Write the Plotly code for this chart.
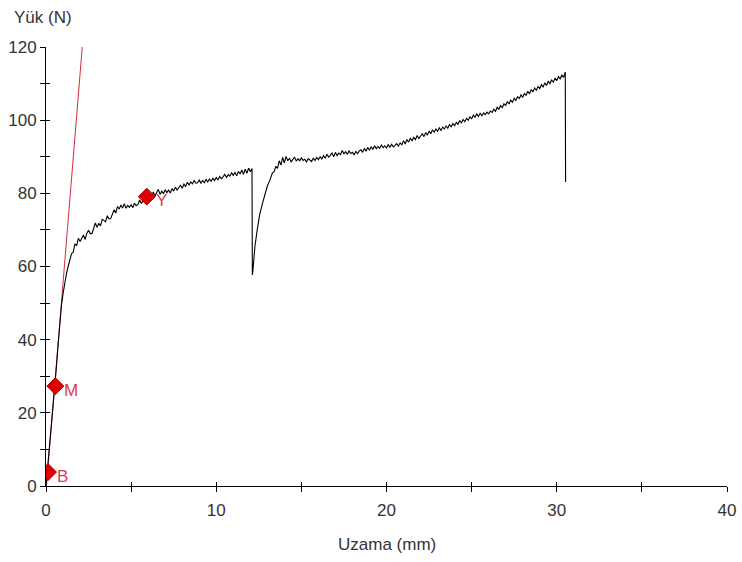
import plotly.graph_objects as go

# ---- Load-elongation curve (black) ----
# initial steep rise
rise_x = [0, 0.05, 0.1, 0.15, 0.2, 0.3, 0.4, 0.5, 0.6, 0.7, 0.8, 0.9, 1.0, 1.1, 1.2, 1.3, 1.4]
rise_y = [0, 2.5, 5.0, 7.5, 10.5, 15.5, 21.0, 26.5, 32.0, 38.0, 44.0, 49.0, 52.5, 55.5, 58.0, 60.0, 61.8]

# first plastic segment up to the first drop
seg1_x = [1.5, 1.6, 1.7, 1.8, 1.9, 2.0, 2.1, 2.2, 2.3, 2.4,
          2.5, 2.6, 2.7, 2.8, 2.9, 3.0, 3.1, 3.2, 3.3, 3.4,
          3.5, 3.6, 3.7, 3.8, 3.9, 4.0, 4.1, 4.2, 4.3, 4.4,
          4.5, 4.6, 4.7, 4.8, 4.9, 5.0, 5.1, 5.2, 5.3, 5.4,
          5.5, 5.6, 5.7, 5.8, 5.9, 6.0, 6.1, 6.2, 6.3, 6.4,
          6.5, 6.6, 6.7, 6.8, 6.9, 7.0, 7.1, 7.2, 7.3, 7.4,
          7.5, 7.6, 7.7, 7.8, 7.9, 8.0, 8.1, 8.2, 8.3, 8.4,
          8.5, 8.6, 8.7, 8.8, 8.9, 9.0, 9.1, 9.2, 9.3, 9.4,
          9.5, 9.6, 9.7, 9.8, 9.9, 10.0, 10.1, 10.2, 10.3, 10.4,
          10.5, 10.6, 10.7, 10.8, 10.9, 11.0, 11.1, 11.2, 11.3, 11.4,
          11.5, 11.6, 11.7, 11.8, 11.9, 12.0, 12.1, 12.12]
seg1_y = [63.5, 63.9, 66.1, 65.8, 67.7, 66.8, 67.6, 68.6, 67.4, 69.1,
          69.9, 69.0, 69.0, 70.7, 71.9, 70.7, 71.8, 71.1, 72.9, 72.6,
          72.2, 73.9, 73.0, 73.1, 74.5, 75.5, 74.6, 76.4, 75.7, 76.8,
          76.0, 77.2, 75.9, 76.7, 76.2, 76.9, 76.1, 77.3, 76.6, 77.0,
          78.2, 77.2, 78.0, 78.9, 78.5, 79.3, 80.0, 78.9, 80.4, 79.3,
          80.1, 81.1, 79.7, 80.6, 79.9, 81.0, 80.2, 80.9, 80.1, 81.3,
          80.6, 81.7, 80.9, 81.5, 82.2, 81.4, 82.5, 81.9, 83.0, 82.3,
          83.1, 82.6, 83.5, 82.8, 82.9, 83.6, 82.8, 83.5, 82.9, 83.8,
          83.1, 83.9, 83.3, 84.1, 83.5, 84.3, 83.7, 84.6, 84.0, 84.5,
          85.2, 84.3, 85.1, 84.7, 85.6, 84.9, 85.8, 84.8, 86.0, 85.3,
          86.4, 85.2, 86.6, 85.5, 86.9, 85.9, 86.8, 57.7]

# recovery after the first drop
rec_x = [12.15, 12.2, 12.27, 12.4, 12.55, 12.7, 12.85, 13.0, 13.15, 13.3, 13.4, 13.5, 13.6]
rec_y = [58.6, 61.5, 65.4, 69.8, 74.2, 77.0, 79.6, 82.0, 83.6, 85.6, 85.9, 87.4, 86.8]

# second plastic segment up to the break
seg2_x = [13.7, 13.8, 13.9, 14.0, 14.1, 14.2, 14.3, 14.4, 14.5, 14.6,
          14.7, 14.8, 14.9, 15.0, 15.1, 15.2, 15.3, 15.4, 15.5, 15.6,
          15.7, 15.8, 15.9, 16.0, 16.1, 16.2, 16.3, 16.4, 16.5, 16.6,
          16.7, 16.8, 16.9, 17.0, 17.1, 17.2, 17.3, 17.4, 17.5, 17.6,
          17.7, 17.8, 17.9, 18.0, 18.1, 18.2, 18.3, 18.4, 18.5, 18.6,
          18.7, 18.8, 18.9, 19.0, 19.1, 19.2, 19.3, 19.4, 19.5, 19.6,
          19.7, 19.8, 19.9, 20.0, 20.1, 20.2, 20.3, 20.4, 20.5, 20.6,
          20.7, 20.8, 20.9, 21.0, 21.1, 21.2, 21.3, 21.4, 21.5, 21.6,
          21.7, 21.8, 21.9, 22.0, 22.1, 22.2, 22.3, 22.4, 22.5, 22.6,
          22.7, 22.8, 22.9, 23.0, 23.1, 23.2, 23.3, 23.4, 23.5, 23.6,
          23.7, 23.8, 23.9, 24.0, 24.1, 24.2, 24.3, 24.4, 24.5, 24.6,
          24.7, 24.8, 24.9, 25.0, 25.1, 25.2, 25.3, 25.4, 25.5, 25.6,
          25.7, 25.8, 25.9, 26.0, 26.1, 26.2, 26.3, 26.4, 26.5, 26.6,
          26.7, 26.8, 26.9, 27.0, 27.1, 27.2, 27.3, 27.4, 27.5, 27.6,
          27.7, 27.8, 27.9, 28.0, 28.1, 28.2, 28.3, 28.4, 28.5, 28.6,
          28.7, 28.8, 28.9, 29.0, 29.1, 29.2, 29.3, 29.4, 29.5, 29.6,
          29.7, 29.8, 29.9, 30.0, 30.1, 30.2, 30.3, 30.4, 30.5, 30.52]
seg2_y = [88.9, 87.7, 89.8, 88.3, 90.1, 88.9, 89.6, 88.6, 89.4, 89.9,
          88.8, 89.5, 88.9, 89.7, 89.0, 89.3, 88.6, 89.5, 89.1, 88.7,
          89.6, 89.0, 89.8, 89.2, 90.0, 89.4, 90.3, 89.6, 90.7, 89.9,
          90.4, 91.1, 90.0, 91.2, 90.3, 91.0, 90.6, 91.7, 90.8, 91.4,
          90.7, 91.6, 90.9, 91.2, 90.5, 91.5, 90.8, 91.6, 91.9, 91.2,
          92.3, 91.5, 92.6, 91.8, 92.7, 92.0, 93.0, 92.2, 92.8, 92.3,
          93.2, 92.5, 93.0, 92.4, 93.3, 92.6, 93.4, 92.7, 93.1, 93.6,
          92.9, 93.8, 93.3, 94.4, 93.5, 94.7, 94.0, 95.1, 94.3, 95.3,
          94.7, 95.8, 95.0, 95.6, 96.3, 95.5, 96.6, 95.9, 97.0, 96.3,
          97.4, 96.7, 97.6, 97.0, 97.9, 97.2, 98.1, 97.6, 98.4, 97.8,
          98.8, 98.2, 99.1, 98.5, 99.4, 98.9, 99.9, 99.2, 100.2, 99.6,
          100.5, 100.0, 101.0, 100.3, 101.4, 100.8, 101.7, 101.0, 101.9, 101.2,
          102.0, 101.5, 102.2, 101.7, 102.5, 102.1, 103.0, 102.4, 103.5, 103.0,
          104.0, 103.4, 104.5, 104.0, 105.1, 104.4, 105.5, 104.9, 106.0, 105.4,
          106.4, 105.9, 106.9, 106.3, 107.3, 106.8, 107.9, 107.2, 108.4, 107.7,
          108.8, 108.2, 109.2, 108.6, 109.7, 109.1, 110.2, 109.5, 110.6, 110.0,
          111.0, 110.4, 111.5, 110.8, 111.9, 111.3, 112.3, 111.7, 113.2, 83.1]

uzama = rise_x + seg1_x + rec_x + seg2_x
yuk = rise_y + seg1_y + rec_y + seg2_y

# Elastic (modulus) line in red
elastic_x = [0.03, 2.13]
elastic_y = [0, 120]

# Marked points
point_labels = ["B", "M", "Y"]
point_x = [0.12, 0.55, 5.92]
point_y = [3.8, 27.3, 79.1]

x_ticks = [0, 10, 20, 30, 40]
y_ticks = [0, 20, 40, 60, 80, 100, 120]

FONT = "Liberation Sans, Arial, sans-serif"
TXT = "#333333"
RED_LINE = "#d0303c"
RED_TXT = "#d64050"

fig = go.Figure()
fig.add_trace(go.Scatter(x=elastic_x, y=elastic_y, mode="lines",
                         line=dict(color=RED_LINE, width=1), hoverinfo="skip",
                         showlegend=False))
fig.add_trace(go.Scatter(x=uzama, y=yuk, mode="lines",
                         line=dict(color="black", width=1.1), showlegend=False))
fig.add_trace(go.Scatter(x=point_x, y=point_y, mode="markers",
                         marker=dict(symbol="diamond", size=13, color="#e00000",
                                     line=dict(color="#a00000", width=1)),
                         showlegend=False))
# invisible trace for the overlay axes (inner tick halves)
fig.add_trace(go.Scatter(x=[0], y=[0], xaxis="x2", yaxis="y2", mode="markers",
                         marker=dict(opacity=0), hoverinfo="skip", showlegend=False))

axis_common = dict(showgrid=False, zeroline=False, showline=True, linecolor="black",
                   linewidth=1, ticks="outside", ticklen=5, tickcolor="black", tickwidth=1,
                   automargin=False,
                   tickfont=dict(family=FONT, size=17, color=TXT))

annotations = [
    dict(text="Yük (N)", xref="paper", yref="paper", x=-0.05, y=1.068,
         xanchor="left", yanchor="middle", showarrow=False,
         font=dict(family=FONT, size=17, color=TXT)),
    dict(text="Uzama (mm)", xref="paper", yref="paper", x=0.5, y=-0.134,
         xanchor="center", yanchor="middle", showarrow=False,
         font=dict(family=FONT, size=17, color=TXT)),
]
for lab, px, py in zip(point_labels, point_x, point_y):
    annotations.append(dict(text=lab, x=px, y=py, xref="x", yref="y",
                            xanchor="left", yanchor="middle", xshift=7, yshift=-4,
                            showarrow=False,
                            font=dict(family=FONT, size=17, color=RED_TXT)))

fig.update_layout(
    width=742, height=562,
    margin=dict(l=46, r=15, t=47, b=76, autoexpand=False),
    plot_bgcolor="white", paper_bgcolor="white",
    xaxis=dict(range=[0, 40], tickvals=x_ticks, ticktext=[str(v) for v in x_ticks],
               minor=dict(dtick=5, tick0=0, ticks="outside", ticklen=5, tickcolor="black"),
               ticklabelstandoff=4,
               **axis_common),
    yaxis=dict(range=[0, 120], tickvals=y_ticks, ticktext=[str(v) for v in y_ticks],
               minor=dict(dtick=10, tick0=0, ticks="outside", ticklen=5, tickcolor="black"),
               **axis_common),
    xaxis2=dict(range=[0, 40], overlaying="x", anchor="y", side="bottom", dtick=5, tick0=0,
                ticks="inside", ticklen=4, tickcolor="black", showticklabels=False,
                automargin=False,
                showgrid=False, zeroline=False, showline=False),
    yaxis2=dict(range=[0, 120], overlaying="y", anchor="x", side="left", dtick=10, tick0=0,
                ticks="inside", ticklen=4, tickcolor="black", showticklabels=False,
                automargin=False,
                showgrid=False, zeroline=False, showline=False),
    annotations=annotations,
)

fig.write_html("out.html")
